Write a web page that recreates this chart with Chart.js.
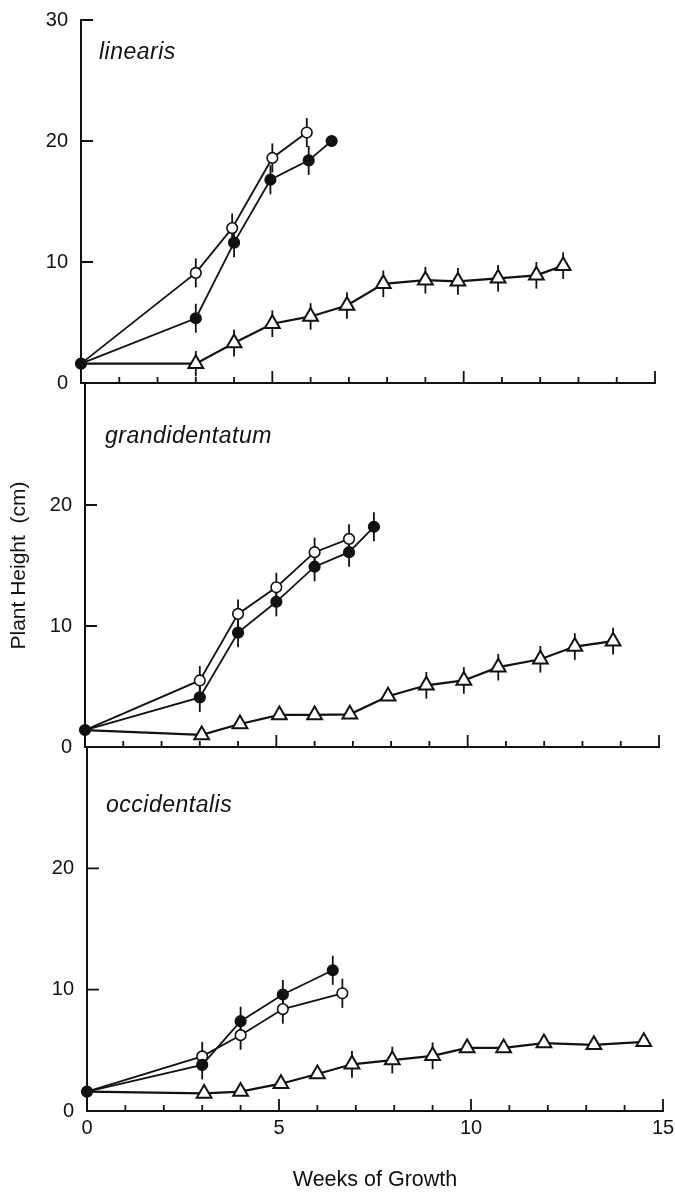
<!DOCTYPE html>
<html>
<head>
<meta charset="utf-8">
<script src="https://cdn.jsdelivr.net/npm/chart.js@4.4.0/dist/chart.umd.min.js"></script>
<style>
html,body{margin:0;padding:0;background:#fff;}
#wrap{position:relative;width:675px;height:1195px;overflow:hidden;background:#fff;}
.pc{position:absolute;left:0;width:700px;}
.lab{position:absolute;font-family:"Liberation Sans",Arial,sans-serif;font-style:italic;font-size:23px;line-height:23px;letter-spacing:0.5px;color:#111;white-space:nowrap;z-index:5;}
</style>
</head>
<body>
<div id="wrap">
  <div class="pc" style="top:-10px;height:423px"><canvas id="c1" width="700" height="423"></canvas></div>
  <div class="pc" style="top:354px;height:423px"><canvas id="c2" width="700" height="423"></canvas></div>
  <div class="pc" style="top:717px;height:478px"><canvas id="c3" width="700" height="478"></canvas></div>
  <div class="lab" style="left:99px;top:40px">linearis</div>
  <div class="lab" style="left:105px;top:424px">grandidentatum</div>
  <div class="lab" style="left:106px;top:793px">occidentalis</div>
</div>
<script>
const INK = '#111';
const FONT = '"Liberation Sans", Arial, sans-serif';

// ---- Data (x = weeks of growth, y = plant height in cm, err = bar half-length) ----
// linearis
const linWeeksFilled = [0, 3, 4, 4.95, 5.95, 6.55];
const linFilled      = [1.6, 5.35, 11.6, 16.8, 18.4, 20.0];
const linFilledErr   = [0, 1.2, 1.2, 1.2, 1.2, 0];
const linWeeksOpen   = [0, 3, 3.95, 5, 5.9];
const linOpen        = [1.6, 9.1, 12.8, 18.6, 20.7];
const linOpenErr     = [0, 1.2, 1.2, 1.2, 1.2];
const linWeeksTri    = [0, 3, 4, 5, 6, 6.95, 7.9, 9, 9.85, 10.9, 11.9, 12.6];
const linTri         = [1.6, 1.6, 3.3, 4.9, 5.5, 6.4, 8.2, 8.5, 8.4, 8.65, 8.9, 9.7];
const linTriErr      = [0, 1.05, 1.1, 1.1, 1.1, 1.1, 1.1, 1.1, 1.1, 1.1, 1.1, 1.1];

// grandidentatum
const graWeeksFilled = [0, 3, 4, 5, 6, 6.9, 7.55];
const graFilled      = [1.4, 4.1, 9.45, 12.0, 14.9, 16.1, 18.2];
const graFilledErr   = [0, 1.2, 1.2, 1.2, 1.2, 1.2, 1.2];
const graWeeksOpen   = [0, 3, 4, 5, 6, 6.9];
const graOpen        = [1.4, 5.5, 11.0, 13.2, 16.1, 17.2];
const graOpenErr     = [0, 1.2, 1.2, 1.2, 1.2, 1.2];
const graWeeksTri    = [0, 3.05, 4.05, 5.08, 6, 6.92, 7.92, 8.92, 9.9, 10.8, 11.9, 12.8, 13.8];
const graTri         = [1.4, 1.0, 1.9, 2.65, 2.65, 2.7, 4.2, 5.1, 5.5, 6.6, 7.25, 8.3, 8.75];
const graTriErr      = [0, 0, 0, 0, 0, 0, 0, 1.1, 1.1, 1.1, 1.1, 1.1, 1.1];

// occidentalis
const occWeeksFilled = [0, 3, 4, 5.1, 6.4];
const occFilled      = [1.6, 3.8, 7.4, 9.6, 11.6];
const occFilledErr   = [0, 1.2, 1.2, 1.2, 1.2];
const occWeeksOpen   = [0, 3, 4, 5.1, 6.65];
const occOpen        = [1.6, 4.5, 6.25, 8.4, 9.7];
const occOpenErr     = [0, 1.2, 1.2, 1.2, 1.2];
const occWeeksTri    = [0, 3.05, 4.0, 5.05, 6.0, 6.9, 7.95, 9.0, 9.9, 10.85, 11.9, 13.2, 14.5];
const occTri         = [1.6, 1.45, 1.6, 2.25, 3.05, 3.85, 4.2, 4.55, 5.2, 5.2, 5.6, 5.45, 5.7];
const occTriErr      = [0, 0, 0, 0, 0, 1.1, 1.1, 1.1, 0, 0, 0, 0, 0];

// axis ticks
const xMin = 0, xMax = 15, xStep = 1, xLabelEvery = 5;
const yMin = 0, yMax = 30, yStep = 10;
const yTitle = 'Plant Height  (cm)';
const xTitle = 'Weeks of Growth';

// ---- plugins: inward tick marks and vertical error bars, positioned through the chart scales ----
const axisTicks = {
  id: 'axisTicks',
  afterDraw(chart, args, opts) {
    const ctx = chart.ctx, ca = chart.chartArea, x = chart.scales.x, y = chart.scales.y;
    ctx.save();
    ctx.strokeStyle = INK; ctx.lineWidth = 1.8;
    ctx.beginPath();
    x.ticks.forEach(t => {
      if (t.value <= 0) return;
      const px = x.getPixelForValue(t.value);
      const len = (t.value % xLabelEvery === 0) ? 12 : 6;
      ctx.moveTo(px, ca.bottom); ctx.lineTo(px, ca.bottom - len);
    });
    y.ticks.forEach(t => {
      if (t.value <= 0) return;
      if (t.value >= yMax && !opts.topTick) return;
      const py = y.getPixelForValue(t.value);
      ctx.moveTo(ca.left, py); ctx.lineTo(ca.left + 12, py);
    });
    ctx.stroke();
    ctx.restore();
  }
};
const errorBars = {
  id: 'errorBars',
  beforeDatasetsDraw(chart) {
    const ctx = chart.ctx, x = chart.scales.x, y = chart.scales.y;
    ctx.save();
    ctx.strokeStyle = INK; ctx.lineWidth = 1.8;
    chart.data.datasets.forEach(ds => {
      (ds.errors || []).forEach((e, i) => {
        if (!e) return;
        const p = ds.data[i];
        const px = x.getPixelForValue(p.x);
        ctx.beginPath();
        ctx.moveTo(px, y.getPixelForValue(p.y - e));
        ctx.lineTo(px, y.getPixelForValue(p.y + e));
        ctx.stroke();
      });
    });
    ctx.restore();
  }
};

function series(weeks, vals, errs, kind) {
  const tri = kind === 'tri';
  return {
    data: weeks.map((w, i) => ({x: w, y: vals[i]})),
    errors: errs,
    clip: false,
    borderColor: INK,
    borderWidth: tri ? 2.2 : 1.8,
    pointStyle: tri ? 'triangle' : 'circle',
    pointRadius: weeks.map((w, i) => (i === 0 && kind !== 'filled') ? 0 : (tri ? 8.5 : 5.3)),
    pointBackgroundColor: kind === 'filled' ? INK : '#fff',
    pointBorderColor: INK,
    pointBorderWidth: tri ? 2 : 1.6,
    fill: false,
    tension: 0
  };
}

function makePanel(id, cfg) {
  return new Chart(document.getElementById(id), {
    type: 'line',
    data: { datasets: [
      series(cfg.wf, cfg.f, cfg.fe, 'filled'),
      series(cfg.wo, cfg.o, cfg.oe, 'open'),
      series(cfg.wt, cfg.t, cfg.te, 'tri')
    ]},
    plugins: [axisTicks, errorBars],
    options: {
      responsive: false,
      animation: false,
      events: [],
      layout: { padding: { top: 30, left: 0, right: 700 - cfg.right, bottom: 0 } },
      plugins: {
        legend: { display: false },
        tooltip: { enabled: false },
        axisTicks: { topTick: cfg.topTick }
      },
      scales: {
        x: {
          type: 'linear', position: 'bottom', min: xMin, max: xMax,
          grid: { display: false, drawTicks: false },
          border: { display: true, color: INK, width: 2 },
          ticks: {
            display: cfg.xLabels, stepSize: xStep, autoSkip: false, maxRotation: 0, padding: 5,
            color: INK, font: { family: FONT, size: 20 },
            callback: v => (v % xLabelEvery === 0) ? String(v) : ''
          },
          title: {
            display: !!cfg.xTitle, text: cfg.xTitle || '', color: INK,
            font: { family: FONT, size: 21.5 }, padding: { top: 0, bottom: 2 }
          },
          afterFit: s => { s.height = cfg.xHeight; }
        },
        y: {
          type: 'linear', position: 'left', min: yMin, max: yMax,
          grid: { display: false, drawTicks: false },
          border: { display: true, color: INK, width: 2 },
          ticks: {
            stepSize: yStep, padding: 13, color: INK, font: { family: FONT, size: 20 },
            callback: v => (v >= yMax && !cfg.topTick) ? '' : String(v)
          },
          title: {
            display: !!cfg.yTitle, text: cfg.yTitle || '', color: INK,
            font: { family: FONT, size: 21 }, padding: { top: 7, bottom: 0 }
          },
          afterFit: s => { s.width = cfg.left; }
        }
      }
    }
  });
}

makePanel('c1', {
  wf: linWeeksFilled, f: linFilled, fe: linFilledErr,
  wo: linWeeksOpen, o: linOpen, oe: linOpenErr,
  wt: linWeeksTri, t: linTri, te: linTriErr,
  left: 81, right: 655, xHeight: 30, topTick: true, xLabels: false
});
makePanel('c2', {
  wf: graWeeksFilled, f: graFilled, fe: graFilledErr,
  wo: graWeeksOpen, o: graOpen, oe: graOpenErr,
  wt: graWeeksTri, t: graTri, te: graTriErr,
  left: 85, right: 659, xHeight: 30, topTick: false, xLabels: false, yTitle: yTitle
});
makePanel('c3', {
  wf: occWeeksFilled, f: occFilled, fe: occFilledErr,
  wo: occWeeksOpen, o: occOpen, oe: occOpenErr,
  wt: occWeeksTri, t: occTri, te: occTriErr,
  left: 87, right: 663, xHeight: 84, topTick: false, xLabels: true, xTitle: xTitle
});
</script>
</body>
</html>
